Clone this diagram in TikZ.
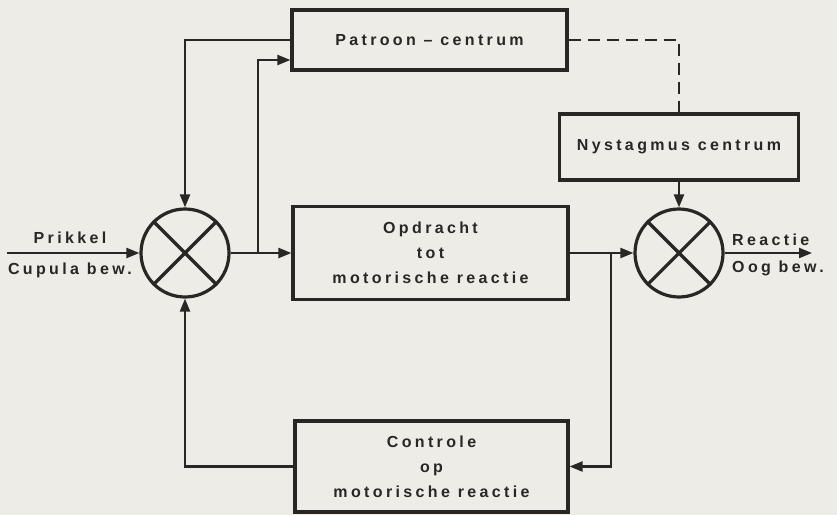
\documentclass[tikz,border=0pt]{standalone}
\usepackage{fontspec}
\setmainfont{Liberation Sans}[LetterSpace=21,BoldFont={* Bold}]
\usetikzlibrary{arrows.meta,calc}
\definecolor{paper}{HTML}{EDECE6}
\definecolor{ink}{HTML}{2A2624}
\tikzset{
  blk/.style={draw=ink,line width=3.2pt,rectangle,inner sep=0pt,align=center,
    font=\bfseries\fontsize{16}{25}\selectfont,text=ink},
  sumnode/.style={draw=ink,line width=3.2pt,circle,minimum size=88pt,inner sep=0pt},
  conn/.style={draw=ink,line width=2.2pt},
  arr/.style={conn,-{Triangle[length=13pt,width=10pt]}},
  lbl/.style={font=\bfseries\fontsize{16}{17}\selectfont,text=ink,inner sep=0pt}
}
\begin{document}
\begin{tikzpicture}[x=1pt,y=-1pt]
\fill[paper] (0,0) rectangle (837,515);
\useasboundingbox (0,0) rectangle (837,515);

\node[blk,minimum width=275pt,minimum height=60pt] (pat) at (429.5,40) {Patroon -- centrum};
\node[blk,minimum width=239pt,minimum height=66pt] (nys) at (679,147) {Nystagmus centrum};
\node[blk,minimum width=275pt,minimum height=93pt] (opd) at (430.5,253) {Opdracht\\tot\\motorische reactie};
\node[blk,minimum width=273pt,minimum height=91pt] (con) at (431.5,466.5) {Controle\\op\\motorische reactie};

\node[sumnode] (s1) at (185,253) {};
\node[sumnode] (s2) at (679,253) {};
\draw[ink,line width=3.2pt] (s1.45) -- (s1.225) (s1.135) -- (s1.315);
\draw[ink,line width=3.2pt] (s2.45) -- (s2.225) (s2.135) -- (s2.315);

\coordinate (in) at (7,253);
\coordinate (out) at (812,253);
\coordinate (b1) at (258,253);
\coordinate (b2) at (611,253);

\draw[arr] (in) -- (s1.west);
\node[lbl] (prikkel) at (70,238) {Prikkel};
\node[lbl] (cupula) at (70,270) {Cupula bew.};

\draw[arr] (s1.east) -- (opd.west);
\draw[arr] (b1) |- ($(pat.west)+(0,20)$);
\draw[arr] (pat.west) -| (s1.north);
\draw[conn,dash pattern=on 12pt off 7pt] (pat.east) -| (nys.north);
\draw[arr] (nys.south) -- (s2.north);
\draw[arr] (opd.east) -- (s2.west);
\draw[arr] (b2) |- (con.east);
\draw[arr] (con.west) -| (s1.south);
\draw[arr] (s2.east) -- (out);
\node[lbl,anchor=west] (reactie) at (732,240) {Reactie};
\node[lbl,anchor=west] (oog) at (732,268) {Oog bew.};
\end{tikzpicture}
\end{document}
